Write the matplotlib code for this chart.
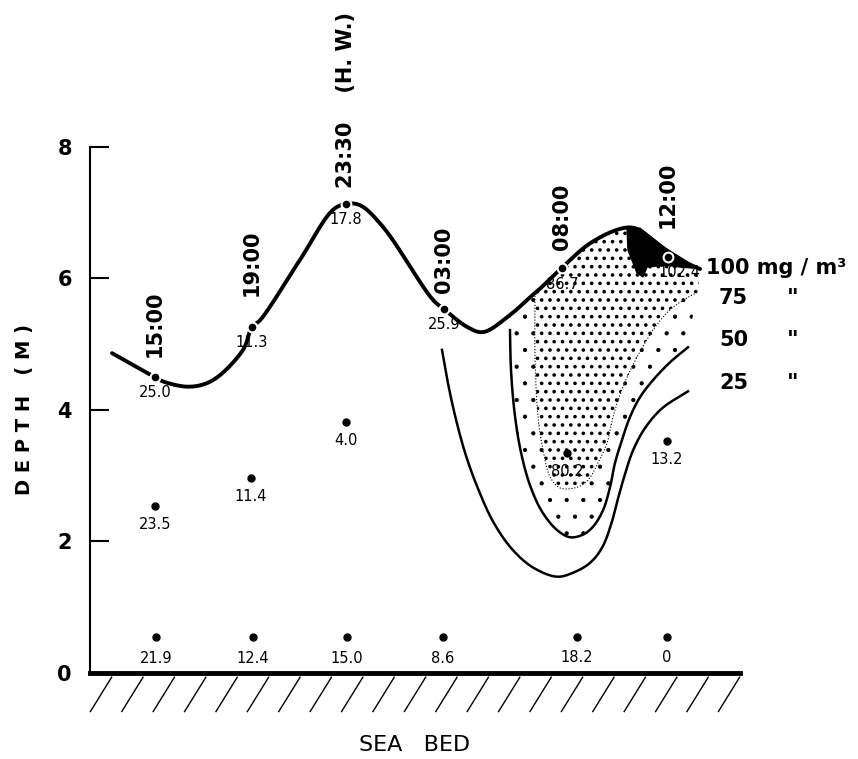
import numpy as np
import matplotlib
matplotlib.use("Agg")
import matplotlib.pyplot as plt
from matplotlib.collections import LineCollection

# --- sample stations (x is distance along the section, arbitrary units) ---
times = ["15:00", "19:00", "23:30    (H. W.)", "03:00", "08:00", "12:00"]

surf_x = [0.65, 1.62, 2.56, 3.54, 4.72, 5.78]
surf_depth = [4.50, 5.26, 7.13, 5.53, 6.15, 6.32]
surf_val = ["25.0", "11.3", "17.8", "25.9", "86.7", "102.4"]

mid_x = [0.65, 1.61, 2.56, 4.77, 5.77]
mid_depth = [2.54, 2.96, 3.82, 3.34, 3.53]
mid_val = ["23.5", "11.4", "4.0", "80.2", "13.2"]

bed_x = [0.66, 1.63, 2.57, 3.53, 4.87, 5.77]
bed_depth = [0.54, 0.54, 0.54, 0.54, 0.55, 0.55]
bed_val = ["21.9", "12.4", "15.0", "8.6", "18.2", "0"]

# --- water surface, traced ---
surface_x = [0.22, 0.57, 0.65, 0.73, 1.00, 1.23, 1.53, 1.62, 1.70, 2.10, 2.43, 2.56,
             2.70, 2.93, 3.43, 3.54, 3.77, 3.93, 4.20, 4.40, 4.50, 4.72, 5.00, 5.30,
             5.45, 5.67, 5.90, 6.10]
surface_d = [4.86, 4.56, 4.50, 4.43, 4.35, 4.45, 4.91, 5.26, 5.36, 6.28, 7.04, 7.13,
             7.11, 6.78, 5.67, 5.53, 5.26, 5.18, 5.44, 5.71, 5.84, 6.16, 6.53, 6.75,
             6.76, 6.53, 6.28, 6.14]

# --- isolines (mg/m3), traced ---
c25_x = [3.52, 3.58, 3.66, 3.76, 3.88, 4.03, 4.22, 4.43, 4.67, 4.83, 5.00, 5.12,
         5.21, 5.28, 5.35, 5.43, 5.55, 5.72, 5.98]
c25_d = [4.91, 4.40, 3.85, 3.30, 2.80, 2.30, 1.88, 1.60, 1.46, 1.52, 1.67, 1.90,
         2.25, 2.65, 3.02, 3.38, 3.72, 4.02, 4.28]

c50_x = [4.20, 4.21, 4.25, 4.31, 4.40, 4.52, 4.67, 4.80, 4.93, 5.03, 5.13, 5.20,
         5.25, 5.32, 5.40, 5.50, 5.63, 5.80, 5.98]
c50_d = [5.21, 4.60, 3.90, 3.35, 2.85, 2.45, 2.17, 2.06, 2.10, 2.22, 2.47, 2.82,
         3.19, 3.54, 3.89, 4.19, 4.45, 4.72, 4.95]

c75_x = [4.45, 4.45, 4.48, 4.53, 4.60, 4.70, 4.87, 4.98, 5.08, 5.17, 5.23, 5.33,
         5.47, 5.63, 5.80, 5.98, 6.08]
c75_d = [5.73, 4.80, 3.89, 3.39, 2.98, 2.81, 2.82, 2.93, 3.19, 3.49, 3.89, 4.35,
         4.80, 5.21, 5.52, 5.71, 5.79]

c100_x = [5.37, 5.50, 5.75, 6.08, 5.90, 5.77, 5.57, 5.53, 5.47, 5.38]
c100_d = [6.76, 6.76, 6.46, 6.15, 6.17, 6.20, 6.17, 6.02, 6.08, 6.43]

legend_levels = ["100 mg / m³", "75", "50", "25"]

PX_X, PX_Y = 100.0, 65.75   # screen pixels per data unit, used only for smoothing


def smooth(x, y, n=12):
    # centripetal Catmull-Rom through the traced points, just for drawing
    p = np.column_stack([np.asarray(x, float) * PX_X, np.asarray(y, float) * PX_Y])
    p = np.vstack([2 * p[0] - p[1], p, 2 * p[-1] - p[-2]])
    out = []
    for i in range(1, len(p) - 2):
        P0, P1, P2, P3 = p[i - 1], p[i], p[i + 1], p[i + 2]
        t0 = 0.0
        t1 = t0 + np.linalg.norm(P1 - P0) ** 0.5
        t2 = t1 + np.linalg.norm(P2 - P1) ** 0.5
        t3 = t2 + np.linalg.norm(P3 - P2) ** 0.5
        t = np.linspace(t1, t2, n, endpoint=False)[:, None]
        A1 = (t1 - t) / (t1 - t0) * P0 + (t - t0) / (t1 - t0) * P1
        A2 = (t2 - t) / (t2 - t1) * P1 + (t - t1) / (t2 - t1) * P2
        A3 = (t3 - t) / (t3 - t2) * P2 + (t - t2) / (t3 - t2) * P3
        B1 = (t2 - t) / (t2 - t0) * A1 + (t - t0) / (t2 - t0) * A2
        B2 = (t3 - t) / (t3 - t1) * A2 + (t - t1) / (t3 - t1) * A3
        out.append((t2 - t) / (t2 - t1) * B1 + (t - t1) / (t2 - t1) * B2)
    out.append(p[-2][None])
    out = np.vstack(out)
    return out[:, 0] / PX_X, out[:, 1] / PX_Y


def stipple(patches, lw):
    for p in patches:
        if hasattr(p, "set_hatch_linewidth"):
            p.set_hatch_linewidth(lw)


plt.rcParams["hatch.linewidth"] = 1.2

fig = plt.figure(figsize=(8.58, 7.59), dpi=100)
ax = fig.add_axes([90 / 858, 86.3 / 759, 650 / 858, 526.0 / 759])
ax.set_xlim(0, 6.5)
ax.set_ylim(0, 8)

sx, sy = smooth(surface_x, surface_d)
x25, y25 = smooth(c25_x, c25_d)
x50, y50 = smooth(c50_x, c50_d)
x75, y75 = smooth(c75_x, c75_d)

# stippled areas: sparse dots 50-75, dense dots >75, black >100
top = sx >= c50_x[0]
stipple(ax.fill(np.concatenate([sx[top], x50[::-1]]), np.concatenate([sy[top], y50[::-1]]),
                facecolor="none", edgecolor="black", linewidth=0, hatch=".", zorder=1), 0.6)
top = sx >= c75_x[0]
stipple(ax.fill(np.concatenate([sx[top], x75[::-1]]), np.concatenate([sy[top], y75[::-1]]),
                facecolor="white", edgecolor="black", linewidth=0, hatch="..", zorder=1.5), 1.4)
ax.fill(c100_x, c100_d, color="black", zorder=2)

ax.plot(x25, y25, color="black", lw=1.8, zorder=3)
ax.plot(x50, y50, color="black", lw=1.8, zorder=3)
ax.plot(x75, y75, color="black", lw=0.8, ls=":", zorder=3)
ax.plot(sx, sy, color="black", lw=2.8, solid_capstyle="round", zorder=3)

# sample points
ax.plot(surf_x, surf_depth, "o", color="black", ms=7, mec="white", mew=1.5, zorder=4)
ax.plot(mid_x, mid_depth, "o", color="black", ms=5, zorder=4)
ax.plot(bed_x, bed_depth, "o", color="black", ms=5, zorder=4)

val_dx = [0, 0, 0, 0, 0, 8]
for x, d, v, dx in zip(surf_x, surf_depth, surf_val, val_dx):
    ax.annotate(v, (x, d), xytext=(dx, -6), textcoords="offset points",
                ha="center", va="top", fontsize=10.5, zorder=5)
for x, d, v in zip(mid_x, mid_depth, mid_val):
    ax.annotate(v, (x, d), xytext=(0, -8), textcoords="offset points",
                ha="center", va="top", fontsize=10.5, zorder=5)
for x, d, v in zip(bed_x, bed_depth, bed_val):
    ax.annotate(v, (x, d), xytext=(0, -10), textcoords="offset points",
                ha="center", va="top", fontsize=10.5, zorder=5)

time_gap = [14, 22, 11.5, 11.5, 13, 21]
for x, d, t, g in zip(surf_x, surf_depth, times, time_gap):
    ax.annotate(t, (x, d), xytext=(0, g), textcoords="offset points",
                rotation=90, ha="center", va="bottom", fontsize=15,
                fontweight="bold", annotation_clip=False)

# isoline key on the right
key_y = [6.16, 5.70, 5.06, 4.41]
for i, (lab, y) in enumerate(zip(legend_levels, key_y)):
    ax.text(6.16 if i == 0 else 6.29, y, lab, fontsize=15, fontweight="bold",
            va="center", ha="left", clip_on=False)
    if i > 0:
        ax.text(7.03, y, '"', fontsize=16, fontweight="bold", va="center",
                ha="center", clip_on=False)

# axes
for s in ["top", "right"]:
    ax.spines[s].set_visible(False)
ax.spines["left"].set_linewidth(1.5)
ax.spines["bottom"].set_linewidth(3.5)
ax.set_xticks([])
ax.set_yticks([0, 2, 4, 6, 8])
ax.tick_params(axis="y", direction="in", length=14, width=1.5, pad=13, labelsize=15)
for lab in ax.get_yticklabels():
    lab.set_fontweight("bold")
ax.set_ylabel("D E P T H   ( M )", fontsize=14, fontweight="bold", labelpad=17)

# sea bed hatching
starts = np.arange(0.0, 6.3, 0.314)
segs = [[(s, -0.6), (s + 0.22, -0.06)] for s in starts]
ax.add_collection(LineCollection(segs, colors="black", linewidths=1.0, clip_on=False))
ax.text(3.25, -1.1, "SEA   BED", fontsize=16, ha="center", va="center", clip_on=False)

fig.savefig("out.png", dpi=100)
